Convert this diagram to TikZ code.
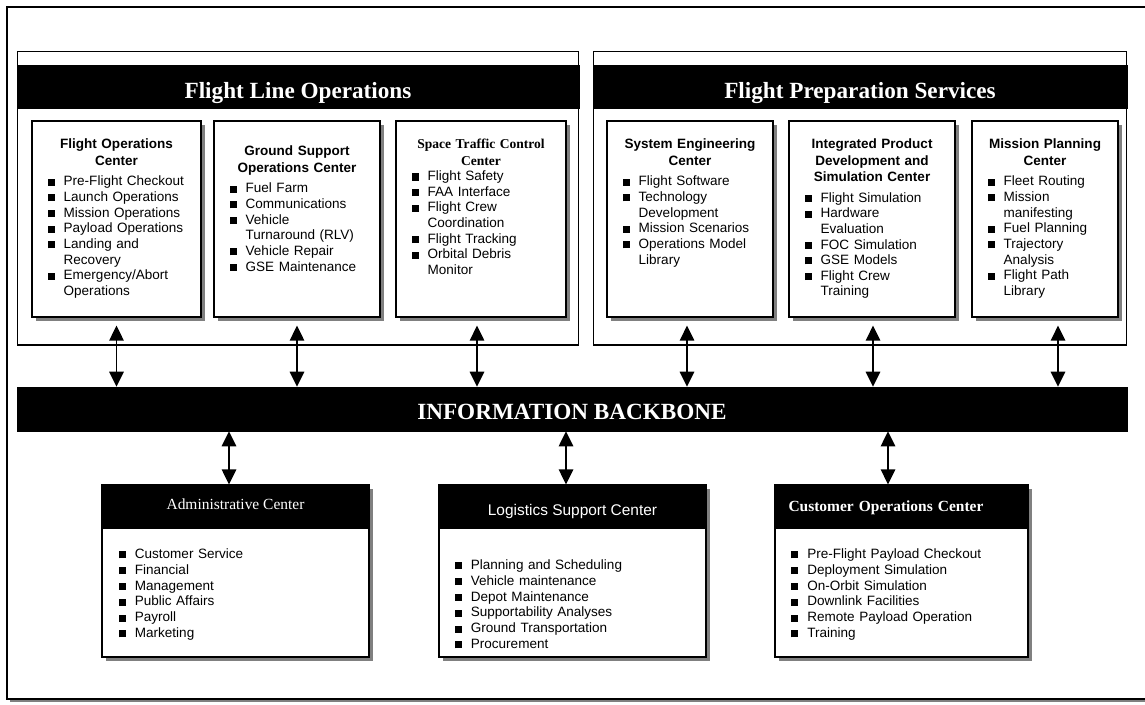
\documentclass[tikz,border=0pt]{standalone}
\usepackage{fontspec}
\setmainfont{Liberation Serif}
\setsansfont{Liberation Sans}
\usetikzlibrary{arrows.meta,shadows,positioning}

% bullet lists inside the centre boxes
\newlength\bind
\setlength\bind{9.2pt}
\newcommand\bsq{\rule[0.1pt]{4pt}{4pt}}
\newcommand\bitem[1]{\par\noindent\makebox[\bind][l]{\bsq}\mbox{#1}}
\newcommand\bmore[1]{\par\noindent\hspace*{\bind}\mbox{#1}}
\newcommand\tline[1]{\par\noindent\makebox[\linewidth]{#1}}
\newcommand\ctitle[2][3pt]{{\fontsize{7.7pt}{9.2pt}\selectfont\bfseries #2\par}\vspace{#1}}

\begin{document}
\begin{tikzpicture}[x=0.02cm, y=-0.02cm,
    outer/.style={draw, fill=white, line width=0.6pt, drop shadow={shadow xshift=0.06cm, shadow yshift=-0.06cm, fill=black!50, opacity=1}},
    group/.style={draw, line width=0.6pt, minimum height=5.88cm, inner sep=0pt},
    band/.style={draw, fill=black, text=white, inner sep=0pt, text height=14pt, text depth=0pt, font=\rmfamily\bfseries\fontsize{13.2pt}{15pt}\selectfont},
    centre/.style={draw, fill=white, line width=0.75pt, minimum height=3.92cm, inner sep=0pt, drop shadow={shadow xshift=0.08cm, shadow yshift=-0.08cm, fill=black!50, opacity=1}},
    list/.style={inner sep=0pt, align=left, anchor=north, font=\sffamily\fontsize{7.7pt}{8.9pt}\selectfont},
    site/.style={draw, fill=white, line width=0.75pt, minimum height=3.44cm, inner sep=0pt, drop shadow={shadow xshift=0.08cm, shadow yshift=-0.08cm, fill=black!50, opacity=1}},
    sitehd/.style={draw, fill=black, text=white, minimum height=0.88cm, inner sep=0pt, anchor=north, text depth=0pt},
    sitelist/.style={inner sep=0pt, align=left, anchor=north west, text width=4.5cm, font=\sffamily\fontsize{7.7pt}{9pt}\selectfont},
    link/.style={{Triangle[width=0.29cm,length=0.3cm]}-{Triangle[width=0.29cm,length=0.3cm]}, line width=0.8pt},
]
\useasboundingbox (0,0) rectangle (1145,704);
\clip (0,0) rectangle (1145,704);
\draw[outer] (7,7) rectangle (1152,699);

% the two groups on top
\node[group, minimum width=11.24cm] (flo) at (298,198) {};
\node[band, minimum width=11.24cm, minimum height=0.86cm] (flohd) at (298,86.5) {Flight Line Operations};
\node[group, minimum width=10.68cm] (fps) at (860,198) {};
\node[band, minimum width=10.68cm, minimum height=0.86cm] (fpshd) at (860,86.5) {Flight Preparation Services};

\node[centre, minimum width=3.38cm] (foc) at (116.5,219) {};
\node[centre, minimum width=3.32cm] (gsoc) at (297,219) {};
\node[centre, minimum width=3.40cm] (stcc) at (481,219) {};
\node[centre, minimum width=3.32cm] (sec) at (690,219) {};
\node[centre, minimum width=3.32cm] (ipdsc) at (872,219) {};
\node[centre, minimum width=2.92cm] (mpc) at (1045,219) {};

\node[list, text width=2.76cm] (focl) at ([yshift=-0.24cm]foc.north) {%
  \ctitle{\tline{Flight Operations}\tline{Center}}
  \bitem{Pre-Flight Checkout}\bitem{Launch Operations}\bitem{Mission Operations}
  \bitem{Payload Operations}\bitem{Landing and}\bmore{Recovery}
  \bitem{Emergency/Abort}\bmore{Operations}};
\node[list, text width=2.70cm] (gsocl) at ([yshift=-0.38cm]gsoc.north) {%
  \ctitle{\tline{Ground Support}\tline{Operations Center}}
  \bitem{Fuel Farm}\bitem{Communications}\bitem{Vehicle}\bmore{Turnaround (RLV)}
  \bitem{Vehicle Repair}\bitem{GSE Maintenance}};
\node[list, text width=2.78cm] (stccl) at ([yshift=-0.24cm]stcc.north) {%
  \ctitle[0pt]{\rmfamily\tline{Space Traffic Control}\tline{Center}}
  \bitem{Flight Safety}\bitem{FAA Interface}\bitem{Flight Crew}\bmore{Coordination}
  \bitem{Flight Tracking}\bitem{Orbital Debris}\bmore{Monitor}};
\node[list, text width=2.70cm] (secl) at ([yshift=-0.24cm]sec.north) {%
  \ctitle{\tline{System Engineering}\tline{Center}}
  \bitem{Flight Software}\bitem{Technology}\bmore{Development}
  \bitem{Mission Scenarios}\bitem{Operations Model}\bmore{Library}};
\node[list, text width=2.70cm] (ipdscl) at ([yshift=-0.24cm]ipdsc.north) {%
  \ctitle{\tline{Integrated Product}\tline{Development and}\tline{Simulation Center}}
  \bitem{Flight Simulation}\bitem{Hardware}\bmore{Evaluation}
  \bitem{FOC Simulation}\bitem{GSE Models}\bitem{Flight Crew}\bmore{Training}};
\node[list, text width=2.30cm] (mpcl) at ([yshift=-0.24cm]mpc.north) {%
  \ctitle{\tline{Mission Planning}\tline{Center}}
  \bitem{Fleet Routing}\bitem{Mission}\bmore{manifesting}
  \bitem{Fuel Planning}\bitem{Trajectory}\bmore{Analysis}
  \bitem{Flight Path}\bmore{Library}};

\node[band, minimum width=22.2cm, minimum height=0.88cm, text height=11.7pt] (bb) at (572,409) {INFORMATION BACKBONE};

% the three centres below
\node[site, minimum width=5.34cm] (adm) at (235.5,571) {};
\node[sitehd, minimum width=5.34cm, text height=3.4pt, font=\rmfamily\fontsize{8.8pt}{10pt}\selectfont] (admhd) at (adm.north) {Administrative Center};
\node[sitelist] (adml) at ([xshift=0.34cm,yshift=-1.16cm]adm.north west) {%
  \bitem{Customer Service}\bitem{Financial}\bitem{Management}
  \bitem{Public Affairs}\bitem{Payroll}\bitem{Marketing}};

\node[site, minimum width=5.34cm] (lsc) at (572.5,571) {};
\node[sitehd, minimum width=5.34cm, text height=10.2pt, font=\sffamily\fontsize{8.8pt}{10pt}\selectfont] (lschd) at (lsc.north) {Logistics Support Center};
\node[sitelist] (lscl) at ([xshift=0.32cm,yshift=-1.38cm]lsc.north west) {%
  \bitem{Planning and Scheduling}\bitem{Vehicle maintenance}\bitem{Depot Maintenance}
  \bitem{Supportability Analyses}\bitem{Ground Transportation}\bitem{Procurement}};

\node[site, minimum width=5.06cm] (coc) at (901.5,571) {};
\node[sitehd, minimum width=5.06cm, text width=4.52cm, align=left, text height=5.3pt, font=\rmfamily\bfseries\fontsize{8.8pt}{10pt}\selectfont] (cochd) at (coc.north) {Customer Operations Center};
\node[sitelist] (cocl) at ([xshift=0.33cm,yshift=-1.16cm]coc.north west) {%
  \bitem{Pre-Flight Payload Checkout}\bitem{Deployment Simulation}\bitem{On-Orbit Simulation}
  \bitem{Downlink Facilities}\bitem{Remote Payload Operation}\bitem{Training}};

% links to the backbone
\coordinate (t1) at ([yshift=-0.16cm]foc.south);
\coordinate (t2) at ([yshift=-0.16cm]gsoc.south);
\coordinate (t3) at ([xshift=-0.08cm,yshift=-0.16cm]stcc.south);
\coordinate (t4) at ([xshift=-0.06cm,yshift=-0.16cm]sec.south);
\coordinate (t5) at ([xshift=0.02cm,yshift=-0.16cm]ipdsc.south);
\coordinate (t6) at ([xshift=0.26cm,yshift=-0.16cm]mpc.south);
\draw[link] (t1) -- (t1 |- bb.north);
\draw[link] (t2) -- (t2 |- bb.north);
\draw[link] (t3) -- (t3 |- bb.north);
\draw[link] (t4) -- (t4 |- bb.north);
\draw[link] (t5) -- (t5 |- bb.north);
\draw[link] (t6) -- (t6 |- bb.north);

\coordinate (u1) at ([xshift=-0.13cm]adm.north);
\coordinate (u2) at ([xshift=-0.13cm]lsc.north);
\coordinate (u3) at ([xshift=-0.27cm]coc.north);
\draw[link] (u1 |- bb.south) -- (u1);
\draw[link] (u2 |- bb.south) -- (u2);
\draw[link] (u3 |- bb.south) -- (u3);
\end{tikzpicture}
\end{document}
